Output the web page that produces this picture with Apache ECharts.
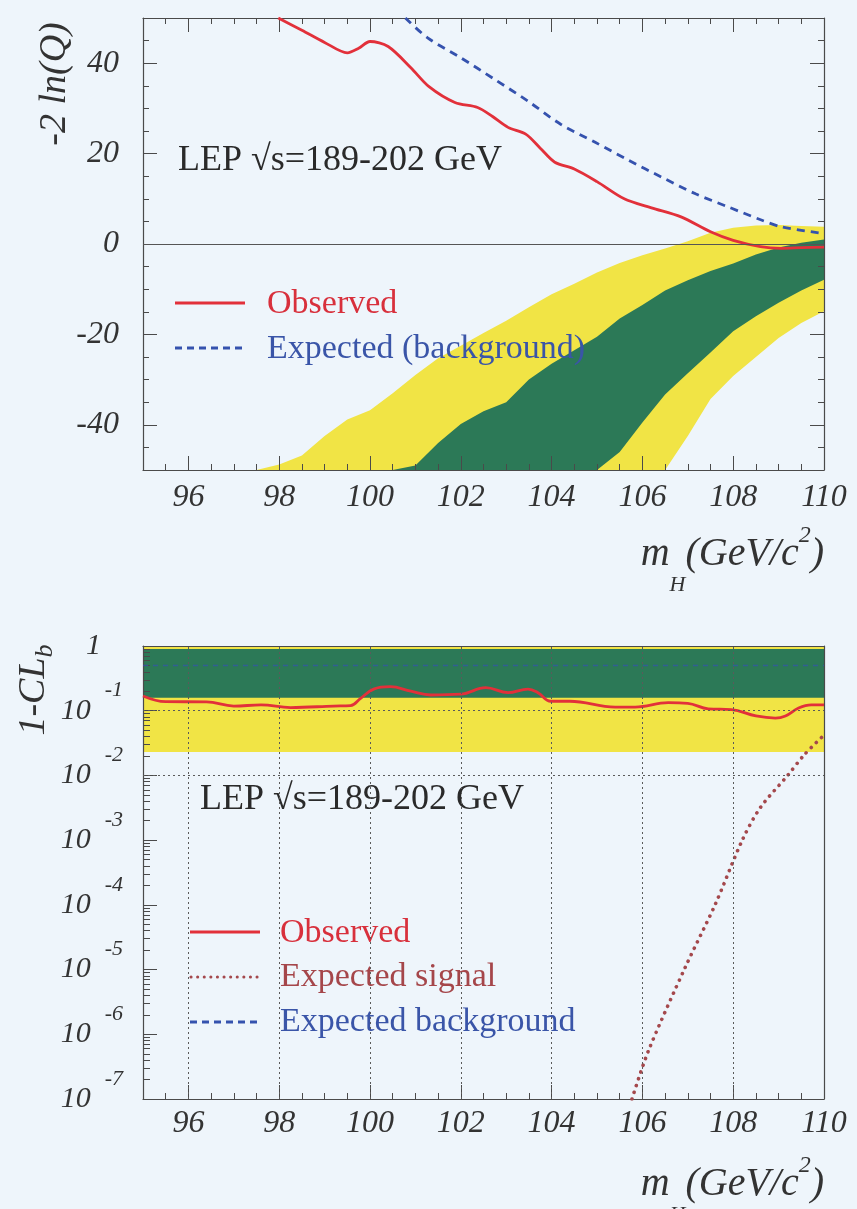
<!DOCTYPE html>
<html><head><meta charset="utf-8">
<script src="https://cdn.jsdelivr.net/npm/echarts@6/dist/echarts.min.js"></script>
<style>html,body{margin:0;padding:0;background:#eef5fb}#c{width:857px;height:1209px}</style>
</head><body><div id="c"></div>
<script>
// ---------------- data ----------------
const xTickLabels = [96, 98, 100, 102, 104, 106, 108, 110];
const lnQTickLabels = [-40, -20, 0, 20, 40];
const clbTickLabels = [1e-7, 1e-6, 1e-5, 1e-4, 1e-3, 1e-2, 1e-1, 1];

// top panel: -2 ln(Q)
const obsTopX = [97.98, 98.5, 99.0, 99.5, 99.75, 100.0, 100.4, 100.9, 101.3, 101.87, 102.37, 102.7, 103.04, 103.43, 103.75, 104.07, 104.5, 105.0, 105.6, 106.2, 106.85, 107.5, 108.0, 108.6, 109.06, 109.5, 110];
const obsTopY = [50, 47.3, 44.6, 42.3, 43.3, 44.8, 43.7, 39, 34.8, 31.3, 30.2, 28.2, 25.8, 24.3, 21.2, 18.1, 16.6, 13.8, 10.0, 8.0, 6.0, 2.7, 0.8, -0.6, -0.95, -0.8, -0.7];
const expTopX = [100.78, 101.27, 102.0, 102.75, 103.48, 104.2, 104.96, 105.7, 106.42, 107.17, 107.89, 108.62, 109.06, 110];
const expTopY = [50, 45.6, 41.2, 36.4, 31.6, 26.5, 22.5, 18.5, 14.8, 11.1, 8.2, 5.3, 3.8, 2.3];
const bandTopX = [97.5, 98, 98.5, 99, 99.5, 100, 100.5, 101, 101.5, 102, 102.5, 103, 103.5, 104, 104.5, 105, 105.5, 106, 106.5, 107, 107.5, 108, 108.5, 109, 109.5, 110];
const yellowTopHi = [-50, -48.8, -46.8, -42.5, -38.8, -36.8, -33, -29, -25.3, -22.5, -19.7, -17, -14, -11.1, -8.8, -6.3, -4.2, -2.5, -1, 0.6, 2.5, 3.6, 4.1, 4.2, 4.0, 3.8];
const yellowTopLo = [-50, -50, -50, -50, -50, -50, -50, -50, -50, -50, -50, -50, -50, -50, -50, -50, -50, -50, -50, -42.5, -34.3, -29.2, -25, -20.8, -17.5, -14.9];
const greenTopHi = [-50, -50, -50, -50, -50, -50, -50, -49, -44, -39.8, -37, -35, -30, -26.5, -23.5, -20.5, -16.5, -13.5, -10.3, -8, -6, -4.3, -2.3, -0.8, 0.3, 1.0];
const greenTopLo = [-50, -50, -50, -50, -50, -50, -50, -50, -50, -50, -50, -50, -50, -50, -50, -50, -46, -39.5, -33.3, -28.6, -24, -19.3, -16, -13, -10.3, -7.9];

// bottom panel: 1-CLb
const obsBotX = [95, 95.5, 96.4, 97.0, 97.6, 98.25, 99.2, 99.57, 99.8, 100.08, 100.45, 100.9, 101.34, 102.0, 102.55, 103.04, 103.48, 103.7, 103.98, 104.4, 105.4, 105.84, 106.57, 107.0, 107.45, 107.96, 108.5, 108.93, 109.15, 109.44, 109.72, 110];
const obsBotY = [0.169, 0.138, 0.137, 0.118, 0.123, 0.112, 0.118, 0.12, 0.157, 0.216, 0.235, 0.2, 0.175, 0.18, 0.227, 0.19, 0.216, 0.19, 0.14, 0.14, 0.114, 0.114, 0.133, 0.13, 0.107, 0.104, 0.083, 0.077, 0.083, 0.11, 0.123, 0.123];
const sigBotX = [105.77, 106.13, 106.94, 107.6, 108.2, 108.6, 109.2, 109.57, 110];
const sigBotY = [1.0e-7, 5.5e-7, 1.07e-5, 1.0e-4, 1.0e-3, 3.2e-3, 0.01, 0.021, 0.042];
const bgBotX = [95, 110];
const bgBotY = [0.5, 0.5];
const bandBotX = [95, 110];
const yellowBotLo = [0.023, 0.023];
const yellowBotHi = [1, 1];
const greenBotLo = [0.159, 0.159];
const greenBotHi = [0.9, 0.9];
const gridXLines = [96, 98, 100, 102, 104, 106, 108];
const gridYLines = [1e-6, 1e-5, 1e-4, 1e-3, 1e-2, 1e-1];
const fiveSigma = 5.7e-7;

// ---------------- chart ----------------
const SERIF = '"Liberation Serif", "Times New Roman", serif';
const AX = '#4a4a4a';
const RED = '#e2303a', BLUE = '#3552ae', YEL = '#f1e445', GRN = '#2c7957', SIG = '#a4484c';

const minorTicksLog = [];
for (let k = -7; k <= -1; k++) for (let m = 2; m <= 9; m++) minorTicksLog.push(m * Math.pow(10, k));

function zip(xs, ys) { return xs.map((x, i) => [x, ys[i]]); }

function band(xi, yi, xs, lo, hi, color, anchor) {
  return {
    type: 'custom', xAxisIndex: xi, yAxisIndex: yi, z: -1, silent: true,
    data: [anchor],
    renderItem: function (params, api) {
      const pts = [];
      for (let i = 0; i < xs.length; i++) pts.push(api.coord([xs[i], hi[i]]));
      for (let i = xs.length - 1; i >= 0; i--) pts.push(api.coord([xs[i], lo[i]]));
      return { type: 'polygon', shape: { points: pts }, style: { fill: color } };
    }
  };
}

const tickLbl = { fontFamily: SERIF, fontStyle: 'italic', fontSize: 32, color: '#333' };
const noLine = { show: false, onZero: false };
const line = { show: true, onZero: false, lineStyle: { color: AX, width: 1.2 } };

const xAxis = [
  // top grid
  { gridIndex: 0, type: 'value', min: 95, max: 110, interval: 0.5, position: 'bottom', axisLine: line,
    axisTick: { inside: true, length: 6, lineStyle: { color: AX } }, axisLabel: { show: false }, splitLine: { show: false } },
  { gridIndex: 0, type: 'value', min: 95, max: 110, position: 'bottom', axisLine: noLine,
    axisTick: { inside: true, length: 14, customValues: xTickLabels, lineStyle: { color: AX } },
    axisLabel: Object.assign({ customValues: xTickLabels, margin: 12 }, tickLbl), splitLine: { show: false } },
  { gridIndex: 0, type: 'value', min: 95, max: 110, interval: 0.5, position: 'top', axisLine: line,
    axisTick: { inside: true, length: 6, lineStyle: { color: AX } }, axisLabel: { show: false }, splitLine: { show: false } },
  { gridIndex: 0, type: 'value', min: 95, max: 110, position: 'top', axisLine: noLine,
    axisTick: { inside: true, length: 14, customValues: xTickLabels, lineStyle: { color: AX } },
    axisLabel: { show: false }, splitLine: { show: false } },
  // bottom grid
  { gridIndex: 1, type: 'value', min: 95, max: 110, interval: 0.5, position: 'bottom', axisLine: line,
    axisTick: { inside: true, length: 6, lineStyle: { color: AX } }, axisLabel: { show: false }, splitLine: { show: false } },
  { gridIndex: 1, type: 'value', min: 95, max: 110, position: 'bottom', axisLine: noLine,
    axisTick: { inside: true, length: 14, customValues: xTickLabels, lineStyle: { color: AX } },
    axisLabel: Object.assign({ customValues: xTickLabels, margin: 9 }, tickLbl), splitLine: { show: false } },
  { gridIndex: 1, type: 'value', min: 95, max: 110, position: 'top', axisLine: line,
    axisTick: { show: false }, axisLabel: { show: false }, splitLine: { show: false } }
];

const yAxis = [
  // top grid
  { gridIndex: 0, type: 'value', min: -50, max: 50, interval: 5, position: 'left', axisLine: line,
    axisTick: { inside: true, length: 6, lineStyle: { color: AX } }, axisLabel: { show: false }, splitLine: { show: false } },
  { gridIndex: 0, type: 'value', min: -50, max: 50, position: 'left', axisLine: noLine,
    axisTick: { inside: true, length: 14, customValues: lnQTickLabels, lineStyle: { color: AX } },
    axisLabel: Object.assign({ customValues: lnQTickLabels, margin: 24 }, tickLbl), splitLine: { show: false } },
  { gridIndex: 0, type: 'value', min: -50, max: 50, interval: 5, position: 'right', axisLine: line,
    axisTick: { inside: true, length: 6, lineStyle: { color: AX } }, axisLabel: { show: false }, splitLine: { show: false } },
  { gridIndex: 0, type: 'value', min: -50, max: 50, position: 'right', axisLine: noLine,
    axisTick: { inside: true, length: 14, customValues: lnQTickLabels, lineStyle: { color: AX } },
    axisLabel: { show: false }, splitLine: { show: false } },
  // bottom grid
  { gridIndex: 1, type: 'log', logBase: 10, min: 1e-7, max: 1, position: 'left', axisLine: line,
    axisTick: { inside: true, length: 14, customValues: clbTickLabels, lineStyle: { color: AX } },
    axisLabel: {
      customValues: clbTickLabels, margin: 20,
      formatter: function (v) {
        const e = Math.round(Math.log10(v));
        return e === 0 ? '{one|1}' : '{b|10}{e|' + e + '}';
      },
      rich: {
        b: { fontFamily: SERIF, fontStyle: 'italic', fontSize: 30, color: '#333', lineHeight: 30 },
        e: { fontFamily: SERIF, fontStyle: 'italic', fontSize: 22, color: '#333', lineHeight: 22, padding: [0, 0, 40, 14] },
        one: { fontFamily: SERIF, fontStyle: 'italic', fontSize: 30, color: '#333', lineHeight: 30, padding: [0, 22, 0, 0] }
      }
    },
    splitLine: { show: false } },
  { gridIndex: 1, type: 'log', logBase: 10, min: 1e-7, max: 1, position: 'left', axisLine: noLine,
    axisTick: { inside: true, length: 7, customValues: minorTicksLog, lineStyle: { color: AX } },
    axisLabel: { show: false }, splitLine: { show: false } },
  { gridIndex: 1, type: 'log', logBase: 10, min: 1e-7, max: 1, position: 'right', axisLine: line,
    axisTick: { show: false }, axisLabel: { show: false }, splitLine: { show: false } }
];

const gridLineStyle = { type: [2, 3], color: '#5a5a5a', width: 1 };

const series = [
  // top panel
  band(0, 0, bandTopX, yellowTopLo, yellowTopHi, YEL, [100, 0]),
  band(0, 0, bandTopX, greenTopLo, greenTopHi, GRN, [100, 0]),
  { type: 'line', xAxisIndex: 0, yAxisIndex: 0, data: zip(expTopX, expTopY), showSymbol: false, smooth: 0.3,
    lineStyle: { color: BLUE, width: 2.8, type: [8, 6] } },
  { type: 'line', xAxisIndex: 0, yAxisIndex: 0, data: zip(obsTopX, obsTopY), showSymbol: false, smooth: 0.3,
    lineStyle: { color: RED, width: 2.8 },
    markLine: { silent: true, symbol: 'none', label: { show: false },
      lineStyle: { type: 'solid', color: '#555', width: 1.2 }, data: [{ yAxis: 0 }] } },
  // bottom panel
  band(4, 4, bandBotX, yellowBotLo, yellowBotHi, YEL, [100, 0.5]),
  band(4, 4, bandBotX, greenBotLo, greenBotHi, GRN, [100, 0.5]),
  { type: 'line', xAxisIndex: 4, yAxisIndex: 4, data: zip(bgBotX, bgBotY), showSymbol: false,
    lineStyle: { color: BLUE, width: 1.5, type: [5, 5], opacity: 0.7 },
    markLine: { silent: true, symbol: 'none', label: { show: false }, lineStyle: gridLineStyle,
      data: gridXLines.map(v => ({ xAxis: v })).concat(gridYLines.map(v => ({ yAxis: v })))
        .concat([{ yAxis: fiveSigma, lineStyle: { type: 'solid', color: '#666', width: 1.2 } }]) } },
  { type: 'line', xAxisIndex: 4, yAxisIndex: 4, data: zip(sigBotX, sigBotY), showSymbol: false, smooth: 0.3,
    lineStyle: { color: SIG, width: 3.6, type: [0.1, 7], cap: 'round' } },
  { type: 'line', xAxisIndex: 4, yAxisIndex: 4, data: zip(obsBotX, obsBotY), showSymbol: false, smooth: 0.4,
    lineStyle: { color: RED, width: 2.8 } }
];

function txt(x, y, text, font, fill) {
  return { type: 'text', x: x, y: y, silent: true,
    style: { text: text, font: font, fill: fill, align: 'left', verticalAlign: 'middle' } };
}
function seg(x1, y1, x2, y2, stroke, w, dash, round) {
  return { type: 'line', silent: true, shape: { x1: x1, y1: y1, x2: x2, y2: y2 },
    style: { stroke: stroke, lineWidth: w, lineDash: dash || null, lineCap: round ? 'round' : 'butt' } };
}
const mhRich = {
  m: { fontFamily: SERIF, fontStyle: 'italic', fontSize: 40, fill: '#333', lineHeight: 40 },
  h: { fontFamily: SERIF, fontStyle: 'italic', fontSize: 22, fill: '#333', lineHeight: 22, padding: [62, 0, 0, 0] },
  s: { fontFamily: SERIF, fontStyle: 'italic', fontSize: 24, fill: '#333', lineHeight: 24, padding: [0, 0, 36, 0] }
};
function mhTitle(y) {
  return { type: 'text', x: 824, y: y, silent: true,
    style: { text: '{m|m}{h|H}{m|(GeV/c}{s|2}{m|)}', rich: mhRich, align: 'right', verticalAlign: 'middle' } };
}

const graphic = [
  // titles
  { type: 'text', x: 55, y: 84, rotation: Math.PI / 2, silent: true,
    style: { text: '-2 ln(Q)', font: 'italic 38px ' + SERIF, fill: '#333', align: 'center', verticalAlign: 'middle' } },
  { type: 'text', x: 34, y: 690, rotation: Math.PI / 2, silent: true,
    style: { text: '{a|1-CL}{b|b}', align: 'center', verticalAlign: 'middle',
      rich: { a: { fontFamily: SERIF, fontStyle: 'italic', fontSize: 38, fill: '#333', lineHeight: 38 },
              b: { fontFamily: SERIF, fontStyle: 'italic', fontSize: 26, fill: '#333', lineHeight: 26, padding: [22, 0, 0, 0] } } } },
  mhTitle(554),
  mhTitle(1184),
  // annotations
  txt(178, 161, 'LEP \u221As=189-202 GeV', '36px ' + SERIF, '#2a2a2a'),
  txt(200, 800, 'LEP \u221As=189-202 GeV', '36px ' + SERIF, '#2a2a2a'),
  // top legend
  seg(175, 303, 245, 303, RED, 3),
  txt(267, 304, 'Observed', '34px ' + SERIF, '#d8303c'),
  seg(175, 348, 245, 348, BLUE, 2.8, [7, 5]),
  txt(267, 349, 'Expected (background)', '34px ' + SERIF, '#3a55a8'),
  // bottom legend
  seg(190, 932, 260, 932, RED, 3),
  txt(280, 933, 'Observed', '34px ' + SERIF, '#d8303c'),
  seg(191, 977, 260, 977, SIG, 3, [0.1, 6.5], true),
  txt(280, 977, 'Expected signal', '34px ' + SERIF, '#a5464a'),
  seg(190, 1022, 260, 1022, BLUE, 2.8, [7, 5]),
  txt(280, 1022, 'Expected background', '34px ' + SERIF, '#3a55a8')
];

const chart = echarts.init(document.getElementById('c'));
chart.setOption({
  backgroundColor: '#eef5fb',
  animation: false,
  grid: [
    { left: 143, top: 18, width: 681, height: 452 },
    { left: 143, top: 646, width: 681, height: 453 }
  ],
  xAxis: xAxis,
  yAxis: yAxis,
  series: series,
  graphic: graphic
});
</script>
</body></html>
